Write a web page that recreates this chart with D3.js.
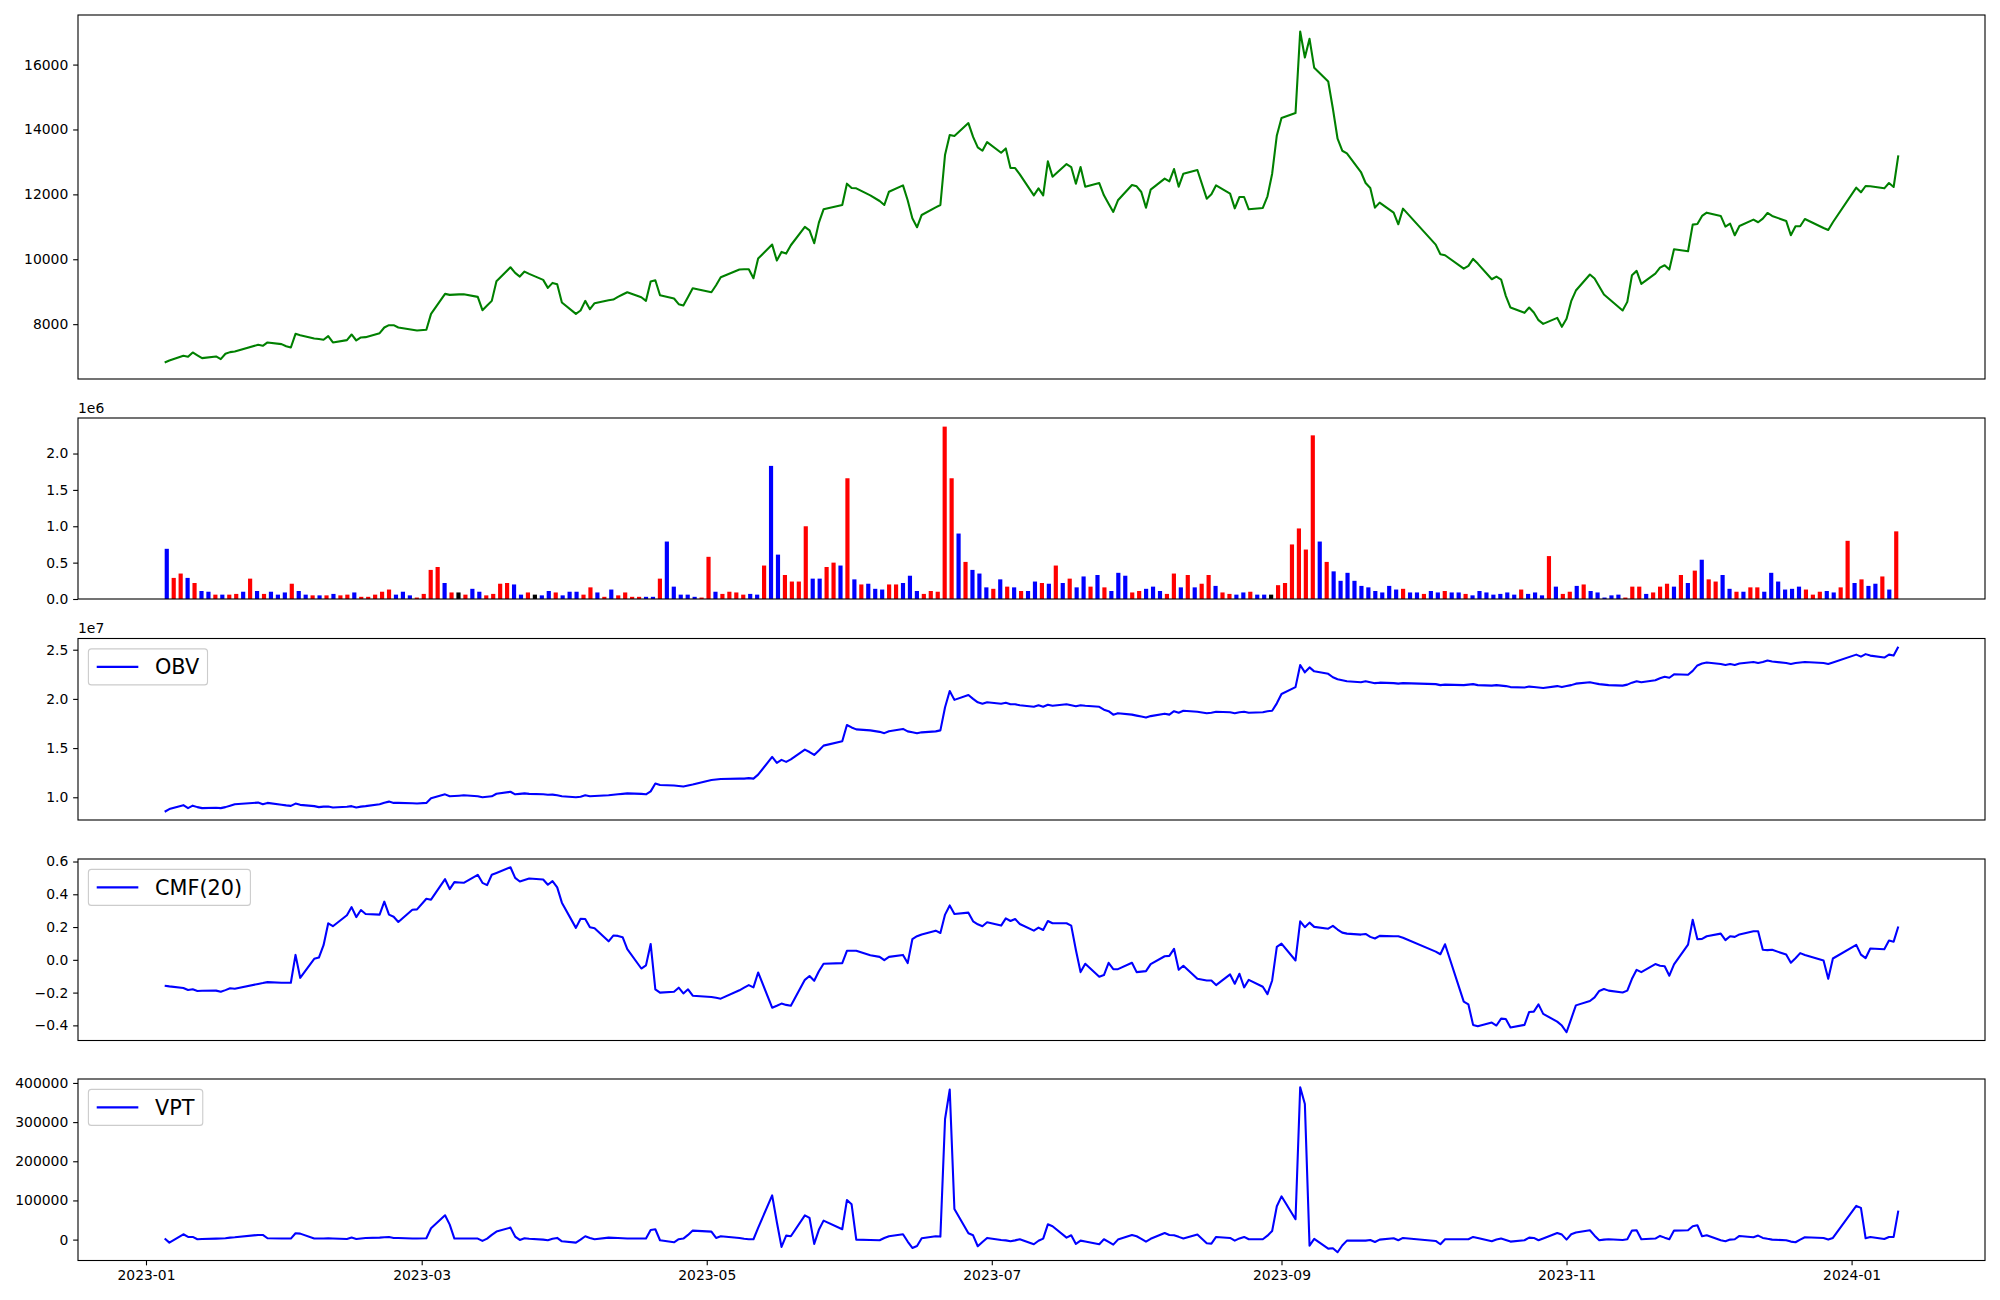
<!DOCTYPE html>
<html><head><meta charset="utf-8">
<script src="https://cdn.jsdelivr.net/npm/d3@7"></script>
<style>
html,body{margin:0;padding:0;background:#fff;}
svg{display:block;font-family:"DejaVu Sans",sans-serif;}
</style></head><body>
<svg id="chart" width="2000" height="1300"></svg>
<script>
// ---------------- DATA ----------------
const tradingDays = [
 ["2023-01",[5,6,9,10,11,12,13,16,17,18,19,20,25,26,27,30,31]],
 ["2023-02",[1,2,3,6,7,8,9,10,13,14,15,16,17,20,21,22,23,24,27,28]],
 ["2023-03",[2,3,6,7,8,9,10,13,14,15,16,17,20,21,22,23,24,27,28,29,30,31]],
 ["2023-04",[3,4,5,6,7,10,11,12,13,14,17,18,19,20,21,24,25,26,27,28]],
 ["2023-05",[2,3,4,8,9,10,11,12,15,16,17,18,19,22,23,24,25,26,30,31]],
 ["2023-06",[1,2,5,7,8,9,12,13,14,15,16,19,20,21,22,23,26,27,28,29,30]],
 ["2023-07",[3,4,5,6,7,10,11,12,13,14,17,18,19,20,21,24,25,26,27,28,31]],
 ["2023-08",[1,2,3,4,7,8,9,10,11,14,16,17,18,21,22,23,24,25,28,29,30,31]],
 ["2023-09",[1,4,5,6,7,8,11,12,13,14,15,18,19,20,21,22,25,26,27]],
 ["2023-10",[4,5,6,10,11,12,13,16,17,18,19,20,23,24,25,26,27,30,31]],
 ["2023-11",[1,2,3,6,7,8,9,10,13,14,15,16,17,20,21,22,23,24,27,28,29,30]],
 ["2023-12",[1,4,5,6,7,8,11,12,13,14,15,18,19,20,21,22,26,27,28]],
 ["2024-01",[2,3,4,5,8,9,10,11]]
];

const closePrice = [
6820,6880,7025,6995,7128,7040,6953,7005,6923,7087,
7138,7159,7364,7333,7436,7384,7320,7282,7702,7660,
7559,7540,7518,7631,7436,7508,7682,7497,7590,7600,
7723,7897,7969,7969,7897,7826,7805,7826,8318,8934,
8903,8910,8918,8923,8841,8431,8575,8718,9323,9754,
9580,9467,9621,9550,9365,9118,9272,9231,8667,8318,
8421,8718,8462,8646,8739,8759,8841,8913,8985,8831,
8718,9313,9354,8893,8790,8616,8575,8840,9108,8985,
9200,9447,9683,9690,9693,9416,10021,10452,9960,10226,
10175,10432,10996,10893,10493,11129,11540,11673,12330,12196,
12186,11971,11796,11673,12083,12278,11817,11263,10986,11365,
11601,11673,13222,13828,13797,14197,13770,13448,13345,13612,
13284,13417,12812,12812,12617,11971,12186,11971,13017,12545,
12935,12843,12330,12843,12237,12350,11971,11714,11458,11817,
12289,12248,12073,11591,12145,12484,12402,12781,12237,12637,
12750,11868,12001,12278,12022,11570,11919,11919,11540,11581,
11940,12638,13817,14351,14505,17018,16218,16793,15900,15480,
14638,13715,13345,13263,12689,12350,12196,11591,11745,11437,
11078,11560,10452,10155,10124,9713,9796,10011,9867,9385,
9467,9375,8872,8513,8349,8513,8359,8123,8010,8195,
7918,8164,8708,9036,9529,9406,9159,8913,8790,8421,
8687,9508,9642,9241,9560,9744,9816,9683,10309,10247,
11068,11088,11335,11437,11335,11006,11099,10739,11027,11222,
11140,11252,11427,11335,11181,10739,11016,11016,11242,10965,
10904,11140,12207,12063,12258,12248,12186,12350,12227,13202];

const volume = [
690000,290000,350000,290000,220000,110000,100000,60000,60000,60000,
70000,100000,280000,110000,70000,100000,60000,90000,210000,110000,
60000,50000,50000,50000,70000,50000,60000,90000,30000,30000,
60000,100000,130000,60000,100000,50000,20000,70000,400000,440000,
220000,90000,90000,60000,140000,100000,50000,70000,210000,220000,
200000,60000,90000,60000,50000,110000,90000,50000,100000,100000,
60000,160000,90000,30000,130000,50000,90000,30000,30000,30000,
30000,280000,790000,170000,60000,60000,30000,20000,580000,100000,
70000,100000,90000,60000,70000,60000,460000,1830000,610000,330000,
240000,240000,1000000,280000,280000,440000,500000,460000,1660000,270000,
200000,210000,140000,130000,200000,200000,220000,320000,110000,70000,
110000,100000,2370000,1660000,900000,510000,400000,350000,160000,140000,
270000,170000,160000,110000,110000,240000,220000,210000,460000,220000,
280000,160000,310000,170000,330000,160000,110000,360000,320000,90000,
110000,140000,170000,110000,70000,350000,160000,330000,160000,210000,
330000,180000,90000,70000,60000,90000,100000,60000,60000,60000,
190000,220000,750000,970000,680000,2250000,790000,510000,380000,250000,
360000,250000,180000,160000,110000,90000,180000,130000,140000,90000,
90000,70000,110000,90000,110000,90000,90000,70000,50000,110000,
90000,60000,70000,90000,60000,130000,70000,90000,50000,590000,
170000,70000,100000,180000,200000,110000,90000,20000,50000,60000,
20000,170000,170000,70000,90000,170000,210000,170000,330000,220000,
390000,540000,270000,240000,330000,140000,100000,100000,160000,160000,
100000,360000,240000,130000,140000,170000,130000,60000,100000,110000,
90000,160000,800000,220000,270000,180000,210000,310000,130000,930000];

// R = up candle (red), B = down candle (blue), K = unchanged (black)
const barDirection =
"BRRBRBBRBR"+"RBRBRBBBRB"+"BRBRBRRBRR"+"RRRBBBRRRR"+"BRKRBBRRRR"+
"BBRKBBRBBB"+"RRBRBRRRRB"+"BRBBBBBRRB"+"RRRRBBRBBR"+"RRRBBRRBRB"+
"RBBBRRBBBR"+"RRRRBRBBBR"+"BRBRBBRBRB"+"RBBRBRBBBR"+"RBBBRRBRBR"+
"RBRRBBRBBK"+"RRRRRRBRBB"+"BBBBBBBBRB"+"BRBBRBBRBB"+"BBBBBRBBBR"+
"BRRBRBBBBB"+"RRRBRRRBRB"+"RBRRBBRBRR"+"BBBBBBRRRB"+"BRRBRBBRBR";

const obv = [
8530000,8800000,9200000,8900000,9150000,9000000,8900000,8930000,8900000,9000000,
9150000,9300000,9460000,9300000,9430000,9250000,9180000,9130000,9360000,9230000,
9100000,9000000,9050000,9070000,8970000,9030000,9100000,8970000,9050000,9100000,
9300000,9450000,9560000,9430000,9430000,9400000,9360000,9430000,9900000,10300000,
10100000,10130000,10160000,10200000,10100000,10000000,10050000,10100000,10360000,10560000,
10300000,10350000,10400000,10350000,10300000,10250000,10270000,10200000,10100000,10000000,
10050000,10200000,10100000,10130000,10200000,10250000,10300000,10350000,10400000,10350000,
10300000,10600000,11400000,11250000,11200000,11150000,11100000,11200000,11300000,11750000,
11800000,11850000,11900000,11900000,11950000,11900000,12300000,14100000,13500000,13800000,
13600000,13850000,14850000,14600000,14300000,14750000,15250000,15700000,17350000,17100000,
16900000,16800000,16650000,16520000,16720000,16950000,16700000,16600000,16500000,16600000,
16700000,16800000,19150000,20800000,19900000,20400000,20000000,19650000,19500000,19650000,
19500000,19600000,19450000,19450000,19350000,19200000,19350000,19200000,19400000,19300000,
19450000,19350000,19250000,19350000,19300000,19200000,18900000,18750000,18400000,18550000,
18400000,18300000,18200000,18100000,18250000,18500000,18400000,18750000,18600000,18800000,
18700000,18550000,18600000,18700000,18650000,18550000,18650000,18700000,18600000,18650000,
18750000,18800000,19550000,20500000,21200000,23450000,22700000,23200000,22800000,22550000,
22200000,22000000,21900000,21800000,21700000,21800000,21700000,21600000,21650000,21600000,
21550000,21600000,21500000,21400000,21450000,21400000,21450000,21500000,21400000,21350000,
21400000,21350000,21300000,21200000,21150000,21250000,21200000,21150000,21100000,21300000,
21200000,21300000,21400000,21550000,21700000,21600000,21500000,21450000,21400000,21350000,
21450000,21650000,21800000,21700000,21900000,22100000,22250000,22150000,22500000,22450000,
22850000,23400000,23600000,23700000,23550000,23450000,23550000,23450000,23600000,23750000,
23650000,23750000,23900000,23800000,23650000,23550000,23650000,23700000,23750000,23650000,
23550000,23700000,24500000,24300000,24550000,24400000,24200000,24500000,24400000,25300000];

const cmf20 = [
-0.158,-0.162,-0.172,-0.184,-0.18,-0.19,-0.189,-0.188,-0.195,-0.185,
-0.174,-0.176,-0.147,-0.142,-0.136,-0.14,-0.14,-0.14,0.03,-0.11,
0.006,0.014,0.089,0.223,0.205,0.272,0.322,0.261,0.304,0.28,
0.276,0.355,0.276,0.263,0.231,0.306,0.308,0.373,0.367,0.492,
0.432,0.474,0.472,0.47,0.519,0.47,0.456,0.519,0.53,0.565,
0.5,0.478,0.487,0.496,0.49,0.458,0.48,0.442,0.349,0.195,
0.251,0.249,0.199,0.193,0.113,0.148,0.146,0.138,0.065,-0.053,
-0.034,0.097,-0.18,-0.2,-0.195,-0.17,-0.205,-0.18,-0.219,-0.227,
-0.232,-0.237,-0.186,-0.17,-0.154,-0.168,-0.077,-0.292,-0.28,-0.267,
-0.275,-0.28,-0.122,-0.099,-0.128,-0.07,-0.024,-0.02,0.055,0.055,
0.055,0.028,0.018,-0.002,0.018,0.03,-0.02,0.126,0.144,0.155,
0.178,0.164,0.276,0.332,0.28,0.288,0.235,0.217,0.205,0.229,
0.209,0.253,0.237,0.249,0.219,0.178,0.197,0.182,0.237,0.223,
0.223,0.209,0.06,-0.075,-0.024,-0.103,-0.093,-0.018,-0.057,-0.057,
-0.018,-0.075,-0.072,-0.069,-0.026,0.022,0.024,0.067,-0.061,-0.036,
-0.116,-0.126,-0.126,-0.154,-0.089,-0.146,-0.085,-0.168,-0.122,-0.164,
-0.209,-0.126,0.079,0.099,-0.004,0.235,0.199,0.227,0.201,0.19,
0.207,0.185,0.166,0.16,0.154,0.158,0.14,0.13,0.146,0.144,
0.144,0.135,0.05,0.034,0.095,-0.255,-0.272,-0.397,-0.405,-0.383,
-0.401,-0.359,-0.361,-0.413,-0.397,-0.318,-0.316,-0.272,-0.33,-0.377,
-0.401,-0.442,-0.36,-0.278,-0.251,-0.229,-0.19,-0.178,-0.188,-0.199,
-0.188,-0.116,-0.061,-0.075,-0.026,-0.036,-0.039,-0.097,-0.028,0.093,
0.245,0.126,0.128,0.144,0.16,0.12,0.144,0.14,0.155,0.174,
0.174,0.061,0.059,0.061,0.032,-0.018,0.01,0.041,0.03,-0.004,
-0.116,0.008,0.091,0.032,0.01,0.069,0.065,0.118,0.111,0.203];

const vpt = [
2600,-7700,13600,6800,6800,900,1500,2500,3000,3400,
5100,6000,11900,11900,3400,3000,2600,2600,16200,15300,
2600,3000,3000,3400,3000,1700,5100,1700,3000,4300,
5100,6000,6800,4300,4000,2600,3000,3400,28900,62000,
38300,2600,2600,2600,2600,-3400,2600,12000,20400,30600,
7700,-900,3400,2000,0,-1700,2000,4300,-4300,-7700,
0,8500,4000,900,5100,4500,4000,3500,3000,2600,
2600,24700,26400,-1700,-6800,900,2600,12000,23000,20400,
4300,8500,4000,2000,1000,900,30000,113000,45000,-18700,
10200,8500,62000,55300,-11000,25000,48500,26400,101000,90000,
0,-1000,-1700,4000,8500,13600,-5000,-21300,-16200,3400,
8500,7700,308000,383000,78000,16200,11000,-17000,-6000,4300,
-900,-2000,-4300,-2000,900,-11900,-3000,2600,39000,34000,
5100,11000,-11000,-2600,-5000,-11900,900,-6000,-12800,0,
11900,8500,2000,-5100,2000,17000,11900,11000,7000,2600,
12800,-9400,-10200,6800,4300,-2600,3000,6800,900,900,
10000,22100,85000,110500,51900,389000,346000,-15300,1700,-23000,
-22100,-32300,-15000,-2600,-2600,-2600,-900,-6000,0,3400,
-1700,4300,-3400,-11900,900,900,900,6800,4000,-4300,
0,2600,-1000,-5100,-1700,5100,4300,-1700,3000,17000,
12800,0,13600,17900,23800,10000,-1700,0,900,-900,
900,23000,23800,900,2600,9400,5000,900,23000,23800,
34000,36600,8500,11000,-1700,-4300,0,900,9400,6000,
10200,4300,2000,0,-1700,-5100,-6800,0,6000,4300,
0,4300,86000,81000,3400,6800,1700,6800,6800,74000];

const priceTicks = [8000,10000,12000,14000,16000];
const volumeTicks = [0,500000,1000000,1500000,2000000];
const obvTicks = [10000000,15000000,20000000,25000000];
const cmfTicks = [-0.4,-0.2,0.0,0.2,0.4,0.6];
const vptTicks = [0,100000,200000,300000,400000];
const dateTickLabels = ["2023-01","2023-03","2023-05","2023-07","2023-09","2023-11","2024-01"];

// ---------------- LAYOUT ----------------
const LEFT = 78, RIGHT = 1985;
const panels = [
  {top:15,   bottom:379},
  {top:418,  bottom:599},
  {top:638.5,bottom:820},
  {top:859,  bottom:1040.5},
  {top:1079, bottom:1260.5}
];
const FONT = "DejaVu Sans";
const TICK_FS = 13.9, LEG_FS = 20.8, TICK_LEN = 4.86, TICK_PAD = 4.86;
const colorMap = {R:"#ff0000", B:"#0000ff", K:"#000000"};

const svg = d3.select("#chart");
svg.append("rect").attr("width",2000).attr("height",1300).attr("fill","#fff");

const dates = tradingDays.flatMap(([m, ds]) => ds.map(d => new Date(`${m}-${String(d).padStart(2,"0")}T00:00:00Z`)));
const n = dates.length;

function padded(arr){ const [a,b] = d3.extent(arr); const m=(b-a)*0.05; return [a-m,b+m]; }

const tExt = d3.extent(dates);
const tPad = (tExt[1]-tExt[0])*0.05;
const xTime = d3.scaleUtc().domain([new Date(+tExt[0]-tPad), new Date(+tExt[1]+tPad)]).range([LEFT,RIGHT]);

function yAxis(g, y, ticks, fmt){
  const ax = d3.axisLeft(y).tickValues(ticks).tickFormat(fmt).tickSize(TICK_LEN).tickPadding(TICK_PAD);
  g.call(ax);
  g.select(".domain").remove();
  g.selectAll(".tick line").attr("stroke","#000").attr("stroke-width",1.1);
  g.selectAll(".tick text").attr("font-family",FONT).attr("font-size",TICK_FS).attr("fill","#000");
}
function frame(p){
  svg.append("rect").attr("x",LEFT).attr("y",p.top).attr("width",RIGHT-LEFT).attr("height",p.bottom-p.top)
    .attr("fill","none").attr("stroke","#000").attr("stroke-width",1.1);
}
function legend(p, label){
  const g = svg.append("g");
  const bx = LEFT + 10.4, by = p.top + 10.4;
  const pad = 0.4*LEG_FS, hl = 2*LEG_FS, htp = 0.8*LEG_FS;
  const box = g.append("rect").attr("x",bx).attr("y",by).attr("rx",3).attr("ry",3)
    .attr("fill","#fff").attr("fill-opacity",0.8).attr("stroke","#cccccc").attr("stroke-width",1.1);
  const cy = by + 18;
  g.append("line").attr("x1",bx+pad).attr("x2",bx+pad+hl).attr("y1",cy).attr("y2",cy)
    .attr("stroke","#0000ff").attr("stroke-width",2.08);
  const t = g.append("text").attr("x",bx+pad+hl+htp).attr("y",cy).attr("dy","0.36em")
    .attr("font-family",FONT).attr("font-size",LEG_FS).attr("fill","#000").text(label);
  const tw = t.node().getComputedTextLength();
  box.attr("width", pad+hl+htp+tw+pad).attr("height",36);
}
function offsetText(p, label){
  svg.append("text").attr("x",LEFT).attr("y",p.top-5.5).attr("font-family",FONT)
    .attr("font-size",TICK_FS).attr("fill","#000").text(label);
}
const fmtMinus = s => s.replace("-","\u2212");

// ---- Panel 1: price ----
{
  const p = panels[0];
  const y = d3.scaleLinear().domain(padded(closePrice)).range([p.bottom,p.top]);
  svg.append("path").datum(closePrice)
    .attr("d", d3.line().x((d,i)=>xTime(dates[i])).y(d=>y(d)))
    .attr("fill","none").attr("stroke","#008000").attr("stroke-width",2.08).attr("stroke-linejoin","round");
  yAxis(svg.append("g").attr("transform",`translate(${LEFT},0)`), y, priceTicks, d3.format("d"));
  frame(p);
}
// ---- Panel 2: volume bars (index positions) ----
{
  const p = panels[1];
  const w = 0.6;
  const span = (n-1)+w;
  const xi = d3.scaleLinear().domain([-w/2-0.05*span, (n-1)+w/2+0.05*span]).range([LEFT,RIGHT]);
  const y = d3.scaleLinear().domain([0, d3.max(volume)*1.05]).range([p.bottom,p.top]);
  svg.append("g").selectAll("rect").data(volume).join("rect")
    .attr("x",(d,i)=>xi(i-w/2)).attr("width",(d,i)=>xi(i+w/2)-xi(i-w/2))
    .attr("y",d=>y(d)).attr("height",d=>y(0)-y(d))
    .attr("fill",(d,i)=>colorMap[barDirection[i]]);
  yAxis(svg.append("g").attr("transform",`translate(${LEFT},0)`), y, volumeTicks, v=>d3.format(".1f")(v/1e6));
  frame(p);
  offsetText(p,"1e6");
}
// ---- Panel 3: OBV ----
{
  const p = panels[2];
  const y = d3.scaleLinear().domain(padded(obv)).range([p.bottom,p.top]);
  svg.append("path").datum(obv)
    .attr("d", d3.line().x((d,i)=>xTime(dates[i])).y(d=>y(d)))
    .attr("fill","none").attr("stroke","#0000ff").attr("stroke-width",2.08).attr("stroke-linejoin","round");
  yAxis(svg.append("g").attr("transform",`translate(${LEFT},0)`), y, obvTicks, v=>d3.format(".1f")(v/1e7));
  frame(p);
  offsetText(p,"1e7");
  legend(p,"OBV");
}
// ---- Panel 4: CMF ----
{
  const p = panels[3];
  const y = d3.scaleLinear().domain(padded(cmf20)).range([p.bottom,p.top]);
  svg.append("path").datum(cmf20)
    .attr("d", d3.line().x((d,i)=>xTime(dates[i])).y(d=>y(d)))
    .attr("fill","none").attr("stroke","#0000ff").attr("stroke-width",2.08).attr("stroke-linejoin","round");
  yAxis(svg.append("g").attr("transform",`translate(${LEFT},0)`), y, cmfTicks, v=>fmtMinus(d3.format(".1f")(v)));
  frame(p);
  legend(p,"CMF(20)");
}
// ---- Panel 5: VPT ----
{
  const p = panels[4];
  const y = d3.scaleLinear().domain(padded(vpt)).range([p.bottom,p.top]);
  svg.append("path").datum(vpt)
    .attr("d", d3.line().x((d,i)=>xTime(dates[i])).y(d=>y(d)))
    .attr("fill","none").attr("stroke","#0000ff").attr("stroke-width",2.08).attr("stroke-linejoin","round");
  yAxis(svg.append("g").attr("transform",`translate(${LEFT},0)`), y, vptTicks, d3.format("d"));
  const xt = dateTickLabels.map(s => new Date(`${s}-01T00:00:00Z`));
  const gx = svg.append("g").attr("transform",`translate(0,${p.bottom})`)
    .call(d3.axisBottom(xTime).tickValues(xt).tickFormat(d3.utcFormat("%Y-%m")).tickSize(TICK_LEN).tickPadding(TICK_PAD));
  gx.select(".domain").remove();
  gx.selectAll(".tick line").attr("stroke","#000").attr("stroke-width",1.1);
  gx.selectAll(".tick text").attr("font-family",FONT).attr("font-size",TICK_FS).attr("fill","#000");
  frame(p);
  legend(p,"VPT");
}
</script>
</body></html>
